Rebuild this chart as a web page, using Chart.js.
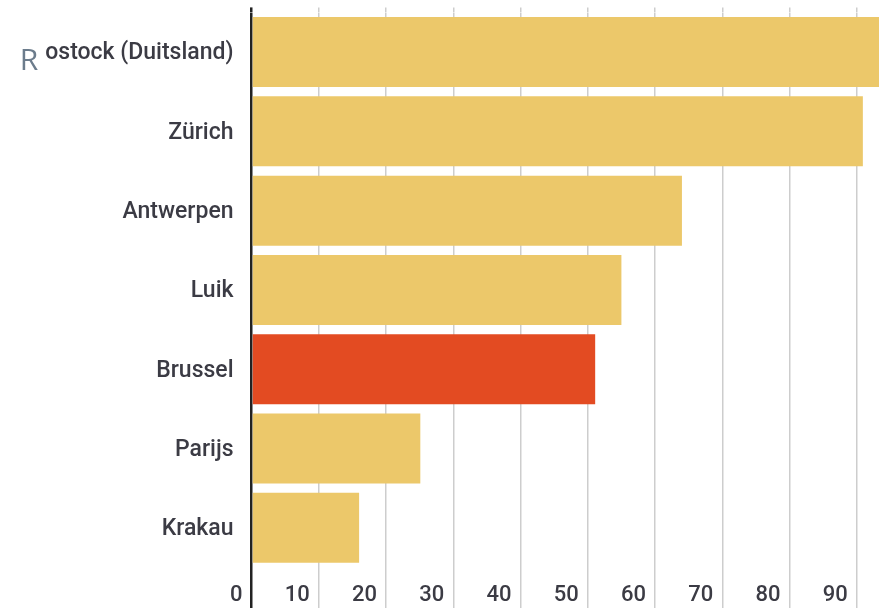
<!DOCTYPE html>
<html>
<head>
<meta charset="utf-8">
<script src="https://cdn.jsdelivr.net/npm/chart.js@4/dist/chart.umd.min.js"></script>
<style>
  html, body { margin: 0; padding: 0; background: #fff; }
  #wrap { width: 879px; height: 608px; }
</style>
</head>
<body>
<div id="wrap"><canvas id="c" width="879" height="608"></canvas></div>
<script>
// Cities and their scores
const categories = ['Rostock (Duitsland)', 'Zürich', 'Antwerpen', 'Luik', 'Brussel', 'Parijs', 'Krakau'];
const values = [96, 90.9, 64.0, 55.0, 51.1, 25.1, 16.0];
const highlight = 'Brussel';
const xTickStep = 10;
const xMax = 93.3;

const YELLOW = '#ecc86a';
const RED = '#e34b22';
const GRID = '#cdcdcd';
const AXIS = '#222222';
const TEXT = '#3b3b44';
const FONT = 'Roboto, "Liberation Sans", sans-serif';

const gridColor = ctx => (ctx.tick && ctx.tick.value === 0 ? AXIS : GRID);
const gridWidth = ctx => (ctx.tick && ctx.tick.value === 0 ? 2.5 : 1.5);

// Fixed axis sizes, without extra room for overhanging labels
const fixSize = (prop, size) => s => {
  s[prop] = size;
  s.paddingTop = 0; s.paddingBottom = 0; s.paddingLeft = 0; s.paddingRight = 0;
};

// First letter of the first city is set apart, in its own style
const detachedInitial = {
  id: 'detachedInitial',
  afterDraw(chart) {
    const { ctx } = chart;
    ctx.save();
    ctx.font = '400 30px "Open Sans", sans-serif';
    ctx.fillStyle = '#6c7c8c';
    ctx.textAlign = 'center';
    ctx.textBaseline = 'middle';
    ctx.fillText(categories[0].charAt(0), 29, 61);
    ctx.restore();
  }
};

new Chart(document.getElementById('c'), {
  type: 'bar',
  data: {
    labels: categories,
    datasets: [{
      data: values,
      backgroundColor: categories.map(c => (c === highlight ? RED : YELLOW)),
      borderWidth: 0,
      barPercentage: 0.883,
      categoryPercentage: 1
    }]
  },
  options: {
    indexAxis: 'y',
    responsive: false,
    animation: false,
    layout: { padding: { top: 8, left: 0, right: 0, bottom: 0 } },
    plugins: { legend: { display: false }, tooltip: { enabled: false } },
    scales: {
      x: {
        type: 'linear',
        position: 'bottom',
        min: 0,
        max: xMax,
        afterFit: fixSize('height', 40.5),
        border: { display: false },
        grid: {
          color: gridColor,
          lineWidth: gridWidth,
          drawTicks: true,
          tickLength: 41
        },
        ticks: {
          stepSize: xTickStep,
          includeBounds: false,
          align: 'end',
          labelOffset: -9,
          padding: -26,
          color: TEXT,
          font: { family: FONT, size: 22, weight: 500 }
        }
      },
      xTop: {
        type: 'linear',
        position: 'top',
        min: 0,
        max: xMax,
        afterFit: fixSize('height', 4.4),
        border: { display: false },
        grid: {
          color: gridColor,
          lineWidth: gridWidth,
          drawOnChartArea: false,
          drawTicks: true,
          tickLength: 5
        },
        ticks: { stepSize: xTickStep, includeBounds: false, display: false }
      },
      y: {
        type: 'category',
        afterFit: fixSize('width', 251.5),
        border: { display: false },
        grid: { display: false, drawTicks: false },
        ticks: {
          padding: 18,
          labelOffset: 1.5,
          color: TEXT,
          font: { family: FONT, size: 23, weight: 500 },
          callback: function (v, i) {
            const label = this.getLabelForValue(v);
            return i === 0 ? label.slice(1) : label;
          }
        }
      }
    }
  },
  plugins: [detachedInitial]
});
</script>
</body>
</html>
